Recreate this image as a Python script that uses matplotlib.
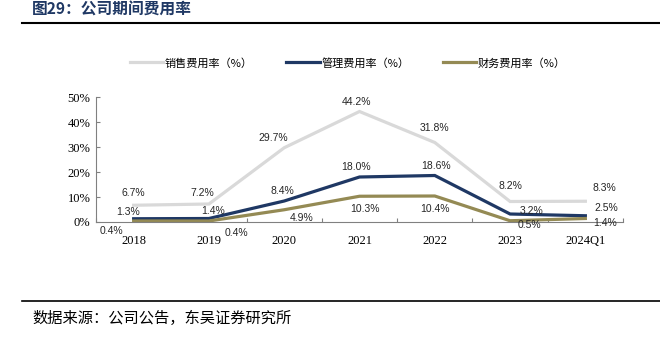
import matplotlib
matplotlib.use("Agg")
from matplotlib import pyplot as plt
from matplotlib.lines import Line2D

plt.rcParams['font.family'] = ['Noto Sans CJK SC', 'DejaVu Sans']

# data
years = ["2018", "2019", "2020", "2021", "2022", "2023", "2024Q1"]
sales = [6.7, 7.2, 29.7, 44.2, 31.8, 8.2, 8.3]
mgmt = [1.3, 1.4, 8.4, 18.0, 18.6, 3.2, 2.5]
fin = [0.4, 0.4, 4.9, 10.3, 10.4, 0.5, 1.4]
names = ["销售费用率（%）", "管理费用率（%）", "财务费用率（%）"]

# label offsets in pixels (dx, dy)
sales_off = [(0, 12), (-7, 11), (-11, 10), (-3, 10), (0, 15), (0, 16), (19, 13)]
mgmt_off = [(-6, 7), (4, 7), (-2, 10), (-3, 10), (1, 10), (21, 3), (21, 8)]
fin_off = [(-22, -10), (28, -12), (17, -8), (5, -13), (0, -13), (19, -4), (20, -4)]

c_sales = '#d9d9d9'
c_mgmt = '#1f3864'
c_fin = '#948a54'
lw = 2.3

fig = plt.figure(figsize=(6.6, 3.44), dpi=100)
ax = fig.add_axes([96/660, 1-222/344, (623-96)/660, 125/344])

x = list(range(len(years)))
ax.plot(x, sales, color=c_sales, lw=lw, solid_joinstyle='miter')
ax.plot(x, mgmt, color=c_mgmt, lw=lw, solid_joinstyle='miter')
ax.plot(x, fin, color=c_fin, lw=lw, solid_joinstyle='miter')

for vals, offs in [(sales, sales_off), (mgmt, mgmt_off), (fin, fin_off)]:
    for i, v in enumerate(vals):
        ax.annotate('%.1f%%' % v, (i, v), xytext=offs[i], textcoords='offset pixels',
                    ha='center', va='center', fontsize=7.5, color='#262626',
                    family='Liberation Sans')

ax.set_xlim(-0.5, 6.5)
ax.set_ylim(0, 50)
ax.set_yticks([0, 10, 20, 30, 40, 50])
ax.set_yticklabels(['%d%%' % t for t in [0, 10, 20, 30, 40, 50]],
                   family='Liberation Serif', fontsize=9)
ax.set_xticks([i + 0.5 for i in range(-1, 7)])
ax.set_xticklabels([])
ax.set_xticks(x, minor=True)
ax.set_xticklabels(years, minor=True, family='Liberation Serif', fontsize=9)
ax.tick_params(axis='x', which='major', direction='in', length=3, color='#808080')
ax.tick_params(axis='x', which='minor', length=0, pad=9)
ax.tick_params(axis='y', direction='in', length=3, color='#808080', pad=4)

for s in ['top', 'right']:
    ax.spines[s].set_visible(False)
ax.spines['left'].set_color('#808080')
ax.spines['bottom'].set_color('#808080')

handles = [Line2D([], [], color=c, lw=lw) for c in [c_sales, c_mgmt, c_fin]]
fig.legend(handles, names, loc='center', bbox_to_anchor=(0.527, 0.817), ncol=3,
           frameon=False, fontsize=8, handlelength=3.0, handletextpad=0.15,
           columnspacing=3.0)

fig.text(32/660, 1-10/344, '图29：公司期间费用率', fontsize=11.3, fontweight='bold',
         color='#1f3864', va='center', ha='left')
fig.add_artist(Line2D([22/660, 1], [1-23/344, 1-23/344], color='black', lw=1.5))
fig.add_artist(Line2D([22/660, 1], [1-301/344, 1-301/344], color='black', lw=1.2))
fig.text(32/660, 1-318/344, '数据来源：公司公告，东吴证券研究所', fontsize=11,
         color='black', va='center', ha='left')

fig.savefig('out.png', dpi=100)
